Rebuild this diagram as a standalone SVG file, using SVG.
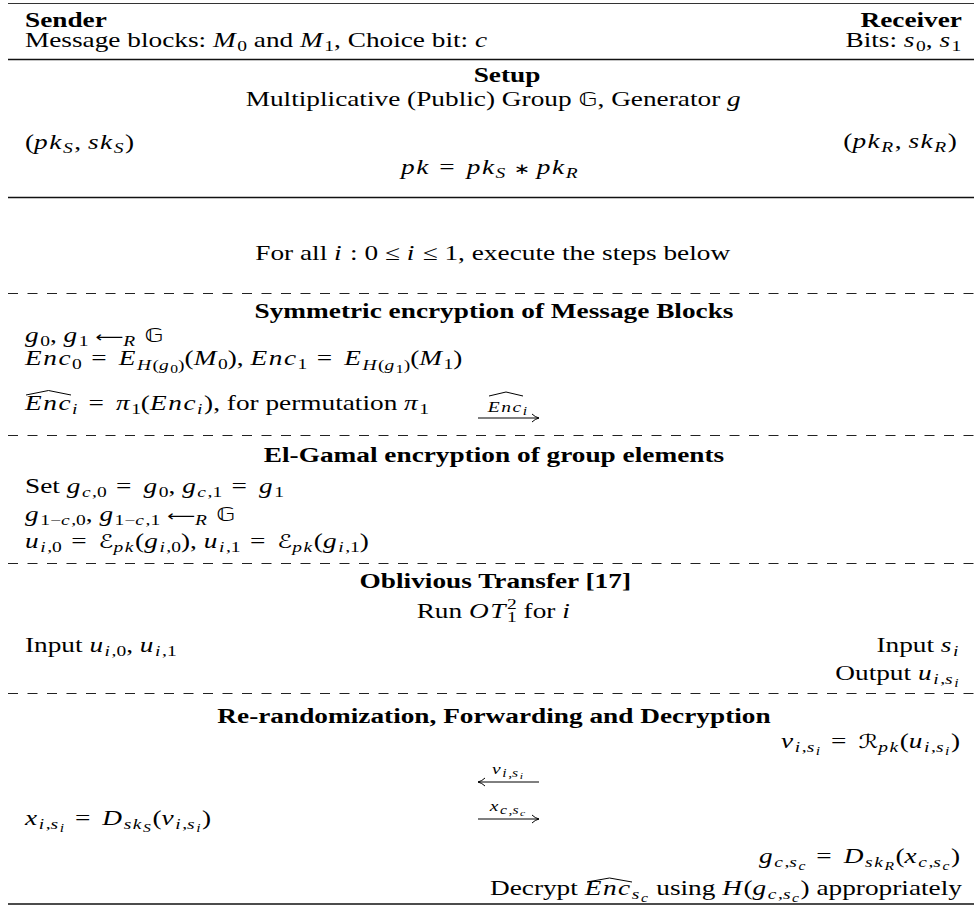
<svg xmlns="http://www.w3.org/2000/svg" width="974" height="907" viewBox="0 0 974 907">
<style>
.t{font-family:"Liberation Serif","Times New Roman",serif;font-size:21px;fill:#000}
.b{font-weight:bold}
.i{font-style:italic;letter-spacing:1.2px}
.s{font-size:15px}
.ss{font-size:12px}
.bb{font-family:"DejaVu Sans",sans-serif;font-size:19px}
.cal{font-family:"DejaVu Sans",sans-serif;font-size:19px}
.ar{font-family:"DejaVu Sans",sans-serif;font-size:15px}
.ast{font-family:"DejaVu Sans",sans-serif;font-size:15px}
.r{letter-spacing:2px}
.m{text-anchor:middle}
.e{text-anchor:end}
.rule{stroke:#111;stroke-width:1.6;fill:none}
.top{stroke:#333;stroke-width:1.2;fill:none}
.dash{stroke:#222;stroke-width:1.2;stroke-dasharray:10 9.5;fill:none}
.arr{stroke:#000;stroke-width:1;fill:none}
</style>
<rect width="974" height="907" fill="#fff"/>
<g id="rules">
<line class="top" x1="8" y1="3.5" x2="974" y2="3.5"/>
<line class="rule" x1="8" y1="59.5" x2="974" y2="59.5"/>
<line class="rule" x1="8" y1="197.5" x2="974" y2="197.5"/>
<line class="dash" x1="8" y1="293.5" x2="974" y2="293.5"/>
<line class="dash" x1="8" y1="435.5" x2="974" y2="435.5"/>
<line class="dash" x1="8" y1="563.5" x2="974" y2="563.5"/>
<line class="dash" x1="8" y1="693.5" x2="974" y2="693.5"/>
<line class="rule" x1="8" y1="904" x2="974" y2="904"/>
</g>
<g id="hats" class="arr">
<path d="M26,395 L48.5,390.5 L71,395"/>
<path d="M489,396 L506,392 L523,396"/>
<path d="M587,882 L609.5,878 L632,882"/>
</g>
<g transform="scale(1.3,1)" class="t">
<g id="header">
<text x="19.2" y="27" class="b">Sender</text>
<text x="740" y="27" class="b e">Receiver</text>
<text x="19.2" y="47">Message blocks: <tspan class="i">M</tspan><tspan class="s" dy="4">0</tspan><tspan dy="-4"> and </tspan><tspan class="i">M</tspan><tspan class="s" dy="4">1</tspan><tspan dy="-4">, Choice bit: </tspan><tspan class="i">c</tspan></text>
<text x="739.5" y="47" class="e">Bits: <tspan class="i">s</tspan><tspan class="s" dy="4">0</tspan><tspan dy="-4">, </tspan><tspan class="i">s</tspan><tspan class="s" dy="4">1</tspan></text>
</g>
<g id="setup">
<text x="390" y="82" class="b m">Setup</text>
<text x="380" y="106" class="m">Multiplicative (Public) Group <tspan class="bb">𝔾</tspan>, Generator <tspan class="i">g</tspan></text>
<text x="19.2" y="149">(<tspan class="i">pk</tspan><tspan class="s i" dy="4">S</tspan><tspan dy="-4">, </tspan><tspan class="i">sk</tspan><tspan class="s i" dy="4">S</tspan><tspan dy="-4">)</tspan></text>
<text x="736" y="148" class="e">(<tspan class="i">pk</tspan><tspan class="s i" dy="4">R</tspan><tspan dy="-4">, </tspan><tspan class="i">sk</tspan><tspan class="s i" dy="4">R</tspan><tspan dy="-4">)</tspan></text>
<text x="377" y="174" class="m"><tspan class="i">pk</tspan><tspan class="r"> = </tspan><tspan class="i">pk</tspan><tspan class="s i" dy="4">S</tspan><tspan dy="-4"> </tspan><tspan class="ast">∗</tspan><tspan> </tspan><tspan class="i">pk</tspan><tspan class="s i" dy="4">R</tspan></text>
</g>
<g id="loop">
<text x="379" y="260" class="m">For all <tspan class="i">i</tspan> : 0 ≤ <tspan class="i">i</tspan> ≤ 1, execute the steps below</text>
</g>
<g id="symmetric">
<text x="380" y="318" class="b m">Symmetric encryption of Message Blocks</text>
<text x="19.2" y="342"><tspan class="i">g</tspan><tspan class="s" dy="4">0</tspan><tspan dy="-4">, </tspan><tspan class="i">g</tspan><tspan class="s" dy="4">1</tspan><tspan dy="-4"> </tspan><tspan class="ar">⟵</tspan><tspan class="s i" dy="4">R</tspan><tspan class="bb" dy="-4"> 𝔾</tspan></text>
<text x="19.2" y="365"><tspan class="i">Enc</tspan><tspan class="s" dy="4">0</tspan><tspan class="r" dy="-4"> = </tspan><tspan class="i">E</tspan><tspan class="s i" dy="5">H</tspan><tspan class="s">(</tspan><tspan class="s i">g</tspan><tspan class="ss" dy="3">0</tspan><tspan class="s" dy="-3">)</tspan><tspan dy="-5">(</tspan><tspan class="i">M</tspan><tspan class="s" dy="4">0</tspan><tspan dy="-4">), </tspan><tspan class="i">Enc</tspan><tspan class="s" dy="4">1</tspan><tspan class="r" dy="-4"> = </tspan><tspan class="i">E</tspan><tspan class="s i" dy="5">H</tspan><tspan class="s">(</tspan><tspan class="s i">g</tspan><tspan class="ss" dy="3">1</tspan><tspan class="s" dy="-3">)</tspan><tspan dy="-5">(</tspan><tspan class="i">M</tspan><tspan class="s" dy="4">1</tspan><tspan dy="-4">)</tspan></text>
<text x="19.2" y="410"><tspan class="i">Enc</tspan><tspan class="s i" dy="4">i</tspan><tspan class="r" dy="-4"> = </tspan><tspan class="i">π</tspan><tspan class="s" dy="4">1</tspan><tspan dy="-4">(</tspan><tspan class="i">Enc</tspan><tspan class="s i" dy="4">i</tspan><tspan dy="-4">), for permutation </tspan><tspan class="i">π</tspan><tspan class="s" dy="4">1</tspan></text>
<text x="391" y="412" class="m s"><tspan class="i">Enc</tspan><tspan class="ss i" dy="3">i</tspan></text>
</g>
<g id="elgamal">
<text x="380" y="462" class="b m">El-Gamal encryption of group elements</text>
<text x="19.2" y="493">Set <tspan class="i">g</tspan><tspan class="s i" dy="4">c</tspan><tspan class="s">,0</tspan><tspan class="r" dy="-4"> = </tspan><tspan class="i">g</tspan><tspan class="s" dy="4">0</tspan><tspan dy="-4">, </tspan><tspan class="i">g</tspan><tspan class="s i" dy="4">c</tspan><tspan class="s">,1</tspan><tspan class="r" dy="-4"> = </tspan><tspan class="i">g</tspan><tspan class="s" dy="4">1</tspan></text>
<text x="19.2" y="521"><tspan class="i">g</tspan><tspan class="s" dy="4">1−</tspan><tspan class="s i">c</tspan><tspan class="s">,0</tspan><tspan dy="-4">, </tspan><tspan class="i">g</tspan><tspan class="s" dy="4">1−</tspan><tspan class="s i">c</tspan><tspan class="s">,1</tspan><tspan dy="-4"> </tspan><tspan class="ar">⟵</tspan><tspan class="s i" dy="4">R</tspan><tspan class="bb" dy="-4"> 𝔾</tspan></text>
<text x="19.2" y="548"><tspan class="i">u</tspan><tspan class="s i" dy="4">i</tspan><tspan class="s">,0</tspan><tspan class="r" dy="-4"> = </tspan><tspan class="cal">ℰ</tspan><tspan class="s i" dy="4">pk</tspan><tspan dy="-4">(</tspan><tspan class="i">g</tspan><tspan class="s i" dy="4">i</tspan><tspan class="s">,0</tspan><tspan dy="-4">), </tspan><tspan class="i">u</tspan><tspan class="s i" dy="4">i</tspan><tspan class="s">,1</tspan><tspan class="r" dy="-4"> = </tspan><tspan class="cal">ℰ</tspan><tspan class="s i" dy="4">pk</tspan><tspan dy="-4">(</tspan><tspan class="i">g</tspan><tspan class="s i" dy="4">i</tspan><tspan class="s">,1</tspan><tspan dy="-4">)</tspan></text>
</g>
<g id="ot">
<text x="381" y="588" class="b m">Oblivious Transfer [17]</text>
<text x="380" y="618" class="m">Run <tspan class="i">OT</tspan><tspan class="s" dy="-9">2</tspan><tspan class="s" dx="-7.5" dy="13">1</tspan><tspan dy="-4"> for </tspan><tspan class="i">i</tspan></text>
<text x="19.2" y="652">Input <tspan class="i">u</tspan><tspan class="s i" dy="4">i</tspan><tspan class="s">,0</tspan><tspan dy="-4">, </tspan><tspan class="i">u</tspan><tspan class="s i" dy="4">i</tspan><tspan class="s">,1</tspan></text>
<text x="738.5" y="652" class="e">Input <tspan class="i">s</tspan><tspan class="s i" dy="4">i</tspan></text>
<text x="738.5" y="680" class="e">Output <tspan class="i">u</tspan><tspan class="s i" dy="4">i</tspan><tspan class="s">,</tspan><tspan class="s i">s</tspan><tspan class="ss i" dy="3">i</tspan></text>
</g>
<g id="rerandomization">
<text x="380" y="723" class="b m">Re-randomization, Forwarding and Decryption</text>
<text x="738.5" y="748" class="e"><tspan class="i">v</tspan><tspan class="s i" dy="4">i</tspan><tspan class="s">,</tspan><tspan class="s i">s</tspan><tspan class="ss i" dy="3">i</tspan><tspan class="r" dy="-7"> = </tspan><tspan class="cal">ℛ</tspan><tspan class="s i" dy="4">pk</tspan><tspan dy="-4">(</tspan><tspan class="i">u</tspan><tspan class="s i" dy="4">i</tspan><tspan class="s">,</tspan><tspan class="s i">s</tspan><tspan class="ss i" dy="3">i</tspan><tspan dy="-7">)</tspan></text>
<text x="391" y="774" class="m s"><tspan class="i">v</tspan><tspan class="ss i" dy="3">i</tspan><tspan class="ss">,</tspan><tspan class="ss i">s</tspan><tspan class="ss i" dy="2" style="font-size:9px">i</tspan></text>
<text x="391" y="811" class="m s"><tspan class="i">x</tspan><tspan class="ss i" dy="3">c</tspan><tspan class="ss">,</tspan><tspan class="ss i">s</tspan><tspan class="ss i" dy="2" style="font-size:9px">c</tspan></text>
<text x="19.2" y="825"><tspan class="i">x</tspan><tspan class="s i" dy="4">i</tspan><tspan class="s">,</tspan><tspan class="s i">s</tspan><tspan class="ss i" dy="3">i</tspan><tspan class="r" dy="-7"> = </tspan><tspan class="i">D</tspan><tspan class="s i" dy="4">sk</tspan><tspan class="ss i" dy="3">S</tspan><tspan dy="-7">(</tspan><tspan class="i">v</tspan><tspan class="s i" dy="4">i</tspan><tspan class="s">,</tspan><tspan class="s i">s</tspan><tspan class="ss i" dy="3">i</tspan><tspan dy="-7">)</tspan></text>
<text x="738.5" y="863" class="e"><tspan class="i">g</tspan><tspan class="s i" dy="4">c</tspan><tspan class="s">,</tspan><tspan class="s i">s</tspan><tspan class="ss i" dy="3">c</tspan><tspan class="r" dy="-7"> = </tspan><tspan class="i">D</tspan><tspan class="s i" dy="4">sk</tspan><tspan class="ss i" dy="3">R</tspan><tspan dy="-7">(</tspan><tspan class="i">x</tspan><tspan class="s i" dy="4">c</tspan><tspan class="s">,</tspan><tspan class="s i">s</tspan><tspan class="ss i" dy="3">c</tspan><tspan dy="-7">)</tspan></text>
<text x="376.9" y="895">Decrypt <tspan class="i">Enc</tspan><tspan class="s i" dy="4">s</tspan><tspan class="ss i" dy="3">c</tspan><tspan dy="-7"> using </tspan><tspan class="i">H</tspan>(<tspan class="i">g</tspan><tspan class="s i" dy="4">c</tspan><tspan class="s">,</tspan><tspan class="s i">s</tspan><tspan class="ss i" dy="3">c</tspan><tspan dy="-7">) appropriately</tspan></text>
</g>
</g>
<g id="connectors" class="arr">
<path d="M478,418 H539 M532,414 Q535,417 539,418 Q535,419 532,422"/>
<path d="M478,782 H539 M485,778 Q482,781 478,782 Q482,783 485,786"/>
<path d="M478,819 H539 M532,815 Q535,818 539,819 Q535,820 532,823"/>
</g>
</svg>
